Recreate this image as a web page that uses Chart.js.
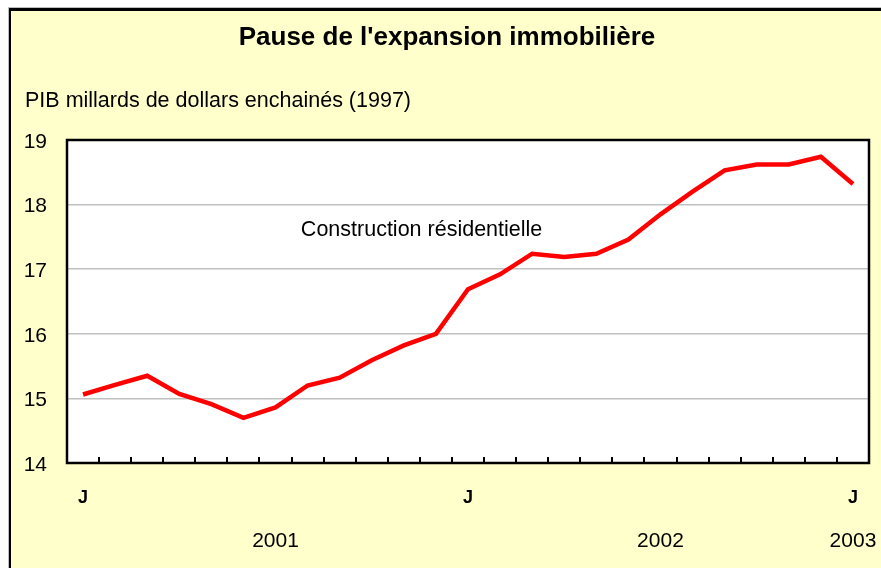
<!DOCTYPE html>
<html lang="fr">
<head>
<meta charset="utf-8">
<title>Pause de l'expansion immobilière</title>
<script src="https://cdn.jsdelivr.net/npm/chart.js@4.4.1/dist/chart.umd.min.js"></script>
<style>
  html, body { margin: 0; padding: 0; background: #fff; overflow: hidden; }
  #cadre { position: absolute; left: 8px; top: 7px; width: 900px; height: 600px; border-top: 1px solid #bdbdbd; border-left: 1px solid #bdbdbd; }
  #fond { width: 100%; height: 100%; box-sizing: border-box; background: #FFFFCC; border-top: 3px solid #000; border-left: 2px solid #000; }
  #graphique { position: absolute; left: 0; top: 0; }
</style>
</head>
<body>
<div id="cadre"><div id="fond"></div></div>
<canvas id="graphique" width="881" height="568"></canvas>
<script>
const mois = [
    'janv. 2001', 'févr. 2001', 'mars 2001', 'avr. 2001', 'mai 2001', 'juin 2001',
    'juil. 2001', 'août 2001', 'sept. 2001', 'oct. 2001', 'nov. 2001', 'déc. 2001',
    'janv. 2002', 'févr. 2002', 'mars 2002', 'avr. 2002', 'mai 2002', 'juin 2002',
    'juil. 2002', 'août 2002', 'sept. 2002', 'oct. 2002', 'nov. 2002', 'déc. 2002',
    'janv. 2003'
];
const construction = [
    15.06, 15.21, 15.35, 15.07, 14.91, 14.70, 14.86, 15.20, 15.32, 15.59, 15.82, 16.00,
    16.69, 16.92, 17.24, 17.19, 17.24, 17.46, 17.85, 18.20, 18.53, 18.62, 18.62, 18.74,
    18.32
];
const lettresMois = ['J', '', '', '', '', '', '', '', '', '', '', '',
    'J', '', '', '', '', '', '', '', '', '', '', '', 'J'];
const annees = ['', '', '', '', '', '', '2001', '', '', '', '', '',
    '', '', '', '', '', '', '2002', '', '', '', '', '', '2003'];
const graduationsY = [14, 15, 16, 17, 18, 19];
const etiquette = { texte: 'Construction résidentielle', indice: 6.79, valeur: 17.60 };

const police = '"Liberation Sans", Arial, sans-serif';
Chart.defaults.font.family = police;
Chart.defaults.color = '#000';

// fond blanc de la zone de tracé, cadre noir, petites graduations vers l'intérieur
const decor = {
    id: 'decor',
    beforeDraw(chart) {
        const { ctx, chartArea: a } = chart;
        ctx.save();
        ctx.fillStyle = '#fff';
        ctx.fillRect(a.left, a.top, a.right - a.left, a.bottom - a.top);
        ctx.restore();
    },
    afterDraw(chart) {
        const { ctx, chartArea: a, scales: { x, y } } = chart;
        ctx.save();
        ctx.strokeStyle = '#000';
        ctx.lineWidth = 2;
        for (let i = 1; i < mois.length; i++) {
            const px = Math.round((x.getPixelForValue(i - 1) + x.getPixelForValue(i)) / 2);
            ctx.beginPath();
            ctx.moveTo(px, a.bottom);
            ctx.lineTo(px, a.bottom - 6);
            ctx.stroke();
        }
        ctx.lineWidth = 2.5;
        ctx.strokeRect(a.left, a.top, a.right - a.left, a.bottom - a.top);

        ctx.fillStyle = '#000';
        ctx.font = '21.5px ' + police;
        ctx.textAlign = 'left';
        ctx.textBaseline = 'middle';
        ctx.fillText(etiquette.texte, x.getPixelForValue(etiquette.indice), y.getPixelForValue(etiquette.valeur));
        ctx.restore();
    }
};

const ajusterX = s => {
    s.height = 45;
    s.paddingLeft = 0;
    s.paddingRight = 0;
};

new Chart(document.getElementById('graphique'), {
    type: 'line',
    data: {
        labels: mois,
        datasets: [{
            label: 'Construction résidentielle',
            data: construction,
            borderColor: '#ff0000',
            borderWidth: 4.5,
            pointRadius: 0,
            tension: 0,
            fill: false
        }]
    },
    options: {
        responsive: false,
        animation: false,
        devicePixelRatio: 1,
        layout: { padding: { left: 25, right: 12, top: 0, bottom: 15 } },
        plugins: {
            legend: { display: false },
            tooltip: { enabled: false },
            title: {
                display: true,
                text: "Pause de l'expansion immobilière",
                color: '#000',
                font: { size: 26, weight: 'bold' },
                padding: { top: 22.4, bottom: 34.8 }
            },
            subtitle: {
                display: true,
                text: 'PIB millards de dollars enchainés (1997)',
                align: 'start',
                color: '#000',
                font: { size: 21.5 },
                padding: { top: 0, bottom: 25.8 }
            }
        },
        scales: {
            x: {
                type: 'category',
                offset: true,
                grid: { display: false },
                border: { display: false },
                ticks: {
                    autoSkip: false,
                    maxRotation: 0,
                    padding: 16.6,
                    font: { size: 18, weight: 'bold' },
                    callback: (v, i) => lettresMois[i]
                },
                afterFit: ajusterX
            },
            x2: {
                type: 'category',
                position: 'bottom',
                offset: true,
                grid: { display: false },
                border: { display: false },
                ticks: {
                    autoSkip: false,
                    maxRotation: 0,
                    padding: 12.4,
                    font: { size: 21 },
                    callback: (v, i) => annees[i]
                },
                afterFit: ajusterX
            },
            y: {
                min: 14,
                max: 19,
                afterBuildTicks: s => { s.ticks = graduationsY.map(v => ({ value: v })); },
                grid: { color: '#c0c0c0', lineWidth: 1.5, drawTicks: false },
                border: { display: false },
                ticks: { padding: 20, labelOffset: 2, font: { size: 21 } },
                afterFit: s => { s.width = 42; }
            }
        }
    },
    plugins: [decor]
});
</script>
</body>
</html>
